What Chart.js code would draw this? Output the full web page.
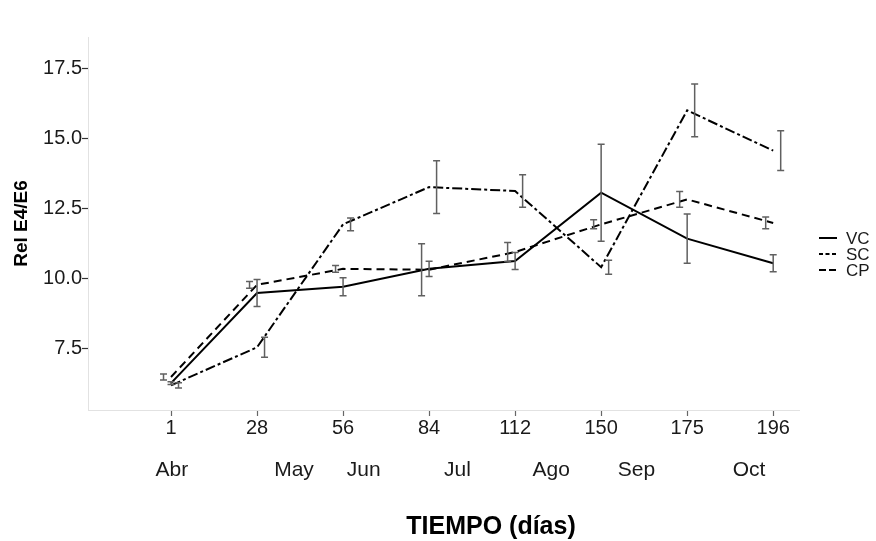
<!DOCTYPE html>
<html>
<head>
<meta charset="utf-8">
<script src="https://cdn.jsdelivr.net/npm/chart.js@4.4.0/dist/chart.umd.min.js"></script>
<style>
  html, body { margin: 0; padding: 0; background: #fff; }
  #wrap { width: 876px; height: 541px; }
</style>
</head>
<body>
<div id="wrap"><canvas id="myChart" width="876" height="541"></canvas></div>
<script>
// dias de muestreo y meses
var days = ['1', '28', '56', '84', '112', '150', '175', '196'];
var months = ['Abr', 'May', 'Jun', 'Jul', 'Ago', 'Sep', 'Oct'];
var monthTicks = [0.01, 1.43, 2.24, 3.33, 4.42, 5.41, 6.72];
var yTicks = [7.5, 10.0, 12.5, 15.0, 17.5];

// Rel E4/E6 por tratamiento (media y error)
var vc = [6.28, 9.5, 9.72, 10.36, 10.64, 13.08, 11.44, 10.56];
var vcErr = [0.05, 0.48, 0.32, 0.27, 0.30, 1.73, 0.88, 0.30];
var sc = [6.5, 9.79, 10.36, 10.33, 10.96, 11.95, 12.84, 12.0];
var scErr = [0.11, 0.12, 0.12, 0.93, 0.34, 0.16, 0.28, 0.21];
var cp = [6.2, 7.56, 11.95, 13.28, 13.14, 10.42, 16.02, 14.58];
var cpErr = [0.09, 0.36, 0.23, 0.94, 0.58, 0.25, 0.94, 0.71];

function pts(arr) {
  return arr.map(function(v, i) { return {x: i, y: v}; });
}

var textColor = '#1a1a1a';

// barras de error, desplazadas un poco por serie
const errorBars = {
  id: 'errorBars',
  afterDatasetsDraw: function(chart) {
    const ctx = chart.ctx;
    const xs = chart.scales.x, ys = chart.scales.y;
    ctx.save();
    ctx.strokeStyle = '#606060';
    ctx.lineWidth = 1.5;
    chart.data.datasets.forEach(function(ds) {
      ds.data.forEach(function(p, i) {
        const x = xs.getPixelForValue(p.x) + ds.errShift;
        const lo = ys.getPixelForValue(p.y - ds.err[i]);
        const hi = ys.getPixelForValue(p.y + ds.err[i]);
        ctx.beginPath();
        ctx.moveTo(x, lo); ctx.lineTo(x, hi);
        ctx.moveTo(x - 3.5, lo); ctx.lineTo(x + 3.5, lo);
        ctx.moveTo(x - 3.5, hi); ctx.lineTo(x + 3.5, hi);
        ctx.stroke();
      });
    });
    ctx.restore();
  }
};

// leyenda a la derecha y titulo del eje x
const extras = {
  id: 'extras',
  afterDraw: function(chart) {
    const ctx = chart.ctx;
    ctx.save();
    const samples = [[], [4, 2.5], [7, 3]];
    chart.data.datasets.forEach(function(ds, k) {
      const y = 238 + k * 16;
      ctx.beginPath();
      ctx.setLineDash(samples[k]);
      ctx.strokeStyle = '#000';
      ctx.lineWidth = 2;
      ctx.moveTo(819, y); ctx.lineTo(837, y);
      ctx.stroke();
      ctx.setLineDash([]);
      ctx.fillStyle = textColor;
      ctx.font = '17px "Liberation Sans", Arial, sans-serif';
      ctx.textAlign = 'left';
      ctx.textBaseline = 'middle';
      ctx.fillText(ds.label, 846, y + 1);
    });
    ctx.fillStyle = '#000';
    ctx.font = 'bold 25px "Liberation Sans", Arial, sans-serif';
    ctx.textAlign = 'center';
    ctx.textBaseline = 'middle';
    ctx.fillText('TIEMPO (días)', 491, 527);
    ctx.restore();
  }
};

const ctx = document.getElementById('myChart').getContext('2d');

const config = {
  type: 'line',
  data: {
    datasets: [{
      label: 'VC',
      data: pts(vc),
      err: vcErr,
      errShift: 0,
      borderColor: '#000',
      borderWidth: 2,
      pointRadius: 0
    }, {
      label: 'SC',
      data: pts(sc),
      err: scErr,
      errShift: -7.5,
      borderColor: '#000',
      borderWidth: 2,
      borderDash: [8, 5],
      pointRadius: 0
    }, {
      label: 'CP',
      data: pts(cp),
      err: cpErr,
      errShift: 7.5,
      borderColor: '#000',
      borderWidth: 2,
      borderDash: [10, 3, 3, 3],
      pointRadius: 0
    }]
  },
  options: {
    responsive: false,
    animation: false,
    layout: { padding: { top: 37, right: 77, left: 0, bottom: 0 } },
    plugins: {
      legend: { display: false },
      tooltip: { enabled: false }
    },
    scales: {
      x: {
        type: 'linear',
        position: 'bottom',
        min: -0.965,
        max: 7.3,
        weight: 0,
        afterBuildTicks: function(scale) {
          scale.ticks = days.map(function(d, i) { return {value: i}; });
        },
        afterFit: function(scale) { scale.height = 30; },
        grid: { drawOnChartArea: false, tickLength: 6, tickColor: '#666', tickWidth: 1.2 },
        border: { color: '#e2e2e2', width: 1 },
        ticks: {
          padding: 0,
          maxRotation: 0,
          autoSkip: false,
          color: textColor,
          font: { family: '"Liberation Sans", Arial, sans-serif', size: 20 },
          callback: function(v, i) { return days[i]; }
        }
      },
      x2: {
        type: 'linear',
        position: 'bottom',
        min: -0.965,
        max: 7.3,
        weight: 1,
        afterBuildTicks: function(scale) {
          scale.ticks = monthTicks.map(function(m) { return {value: m}; });
        },
        afterFit: function(scale) { scale.height = 101; },
        grid: { display: false, drawTicks: false },
        border: { display: false },
        ticks: {
          padding: 18,
          maxRotation: 0,
          autoSkip: false,
          color: textColor,
          font: { family: '"Liberation Sans", Arial, sans-serif', size: 21 },
          callback: function(v, i) { return months[i]; }
        }
      },
      y: {
        min: 5.32,
        max: 18.64,
        afterBuildTicks: function(scale) {
          scale.ticks = yTicks.map(function(t) { return {value: t}; });
        },
        afterFit: function(scale) { scale.width = 88; },
        grid: { drawOnChartArea: false, tickLength: 6, tickColor: '#333', tickWidth: 1.2 },
        border: { color: '#e2e2e2', width: 1 },
        title: {
          display: true,
          text: 'Rel E4/E6',
          color: '#000',
          padding: { top: 10, bottom: 0 },
          font: { family: '"Liberation Sans", Arial, sans-serif', size: 19, weight: 'bold' }
        },
        ticks: {
          padding: 0,
          color: textColor,
          font: { family: '"Liberation Sans", Arial, sans-serif', size: 20 },
          callback: function(v) { return v.toFixed(1); }
        }
      }
    }
  },
  plugins: [errorBars, extras]
};

const chart = new Chart(ctx, config);
</script>
</body>
</html>
